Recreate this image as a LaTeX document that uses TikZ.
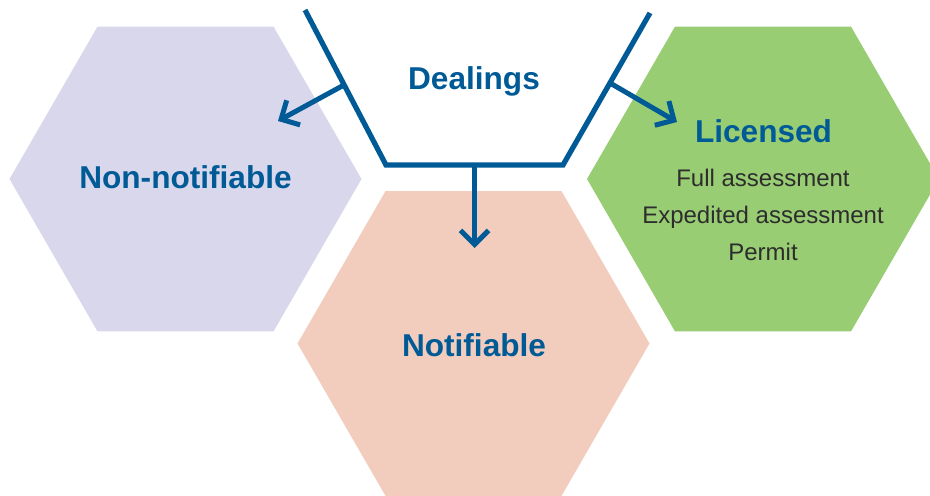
\documentclass[tikz,border=0pt]{standalone}
\usepackage{fontspec}
\setmainfont{Liberation Sans}
\usetikzlibrary{shapes.geometric,arrows.meta,positioning}
\definecolor{dealblue}{RGB}{0,90,150}
\definecolor{hexpurple}{RGB}{217,215,236}
\definecolor{hexpink}{RGB}{242,205,190}
\definecolor{hexgreen}{RGB}{153,205,116}
\definecolor{itemgray}{RGB}{45,45,45}
\tikzset{
    hexagon/.style = {
        regular polygon,
        regular polygon sides=6,
        minimum size=176pt,
        inner sep=0pt,
        draw=none,
        fill=#1
    },
    title/.style = {
        anchor=base,
        inner sep=0pt,
        text=dealblue,
        font=\fontsize{15.8}{18}\selectfont\bfseries
    },
    item/.style = {
        anchor=base,
        inner sep=0pt,
        text=itemgray,
        font=\fontsize{12}{14}\selectfont
    },
    funnel/.style = {
        line width=2.6pt,
        dealblue,
        line join=miter
    },
    flow/.style = {
        line width=2.5pt,
        dealblue,
        -{Straight Barb[length=7pt,width=14pt]}
    }
}

\begin{document}
\begin{tikzpicture}[x=0.5pt,y=-0.5pt]
    \useasboundingbox (0,0) rectangle (930,496);
    \clip (0,0) rectangle (930,496);

    % Hexagons
    \node[hexagon=hexpurple] (nonnotif) at (185.5,179) {};
    \node[hexagon=hexpink] (notif) at (473.5,343.5) {};
    \node[hexagon=hexgreen] (licensed) at (763,179) {};

    % Titles
    \node[title] (dealingstext) at (474,90) {Dealings};
    \node[title] (nonnotiftext) at (185.5,189) {Non-notifiable};
    \node[title] (notiftext) at (474,356) {Notifiable};
    \node[title] (licensedtext) at (763.5,143) {Licensed};

    % Licence types
    \node[item] (fullitem) at (763,187) {Full assessment};
    \node[item] (expitem) at (763,224) {Expedited assessment};
    \node[item] (permititem) at (763,261) {Permit};

    % Funnel
    \coordinate (ftl) at (305,10);
    \coordinate (fbl) at (386,165);
    \coordinate (fbr) at (563,165);
    \coordinate (ftr) at (650,13);
    \draw[funnel] (ftl) -- (fbl) -- (fbr) -- (ftr);

    % Arrows
    \coordinate (leftout) at (344,85);
    \coordinate (leftend) at (278,121);
    \coordinate (rightout) at (610,83);
    \coordinate (rightend) at (677,122);
    \coordinate (downout) at (474.5,165);
    \coordinate (downend) at (474.5,248);
    \draw[flow] (leftout) -- (leftend);
    \draw[flow] (rightout) -- (rightend);
    \draw[flow] (downout) -- (downend);
\end{tikzpicture}
\end{document}
